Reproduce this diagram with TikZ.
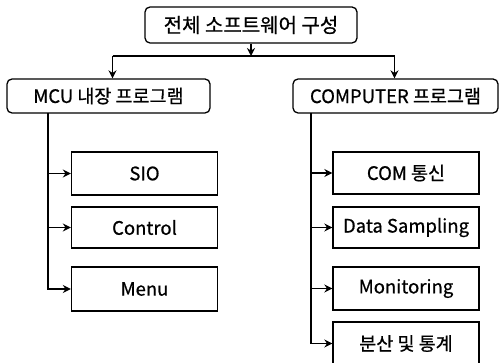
\documentclass[tikz,border=0pt]{standalone}
\usepackage{fontspec}
\setmainfont{Noto Sans CJK KR}[FakeBold=0.7]
\usetikzlibrary{arrows.meta}
\begin{document}
\begin{tikzpicture}[x=1pt,y=-1pt,
  txt/.style={font=\fontsize{18.5}{22}\selectfont, text=black},
  headbox/.style={txt, draw=black, line width=1.3pt, rounded corners=5pt, inner sep=0pt},
  subbox/.style={txt, draw=black, line width=1.3pt, inner sep=0pt, minimum width=146pt},
  conn/.style={line width=1.8pt, draw=black},
  arr/.style={conn, -{Stealth[length=8pt,width=8pt]}}]
\useasboundingbox (0,0) rectangle (500,363);
\node[headbox, minimum width=212pt, minimum height=36pt, font=\fontsize{20}{22}\selectfont] (top) at (251,25) {전체 소프트웨어 구성};
\node[headbox, minimum width=203pt, minimum height=34pt] (mcu) at (108.5,96) {MCU 내장 프로그램};
\node[headbox, minimum width=205pt, minimum height=34pt] (pc) at (395.5,96) {COMPUTER 프로그램};
\node[subbox, minimum height=43pt] (sio) at (144.5,173.5) {SIO};
\node[subbox, minimum height=41pt] (ctl) at (144.5,227.5) {Control};
\node[subbox, minimum height=44pt] (menu) at (144.5,289) {Menu};
\node[subbox, minimum height=42pt] (com) at (406,173) {COM 통신};
\node[subbox, minimum height=41pt] (data) at (406,227.5) {Data Sampling};
\node[subbox, minimum height=43pt] (mon) at (406,288.5) {Monitoring};
\node[subbox, minimum height=43pt] (stat) at (406,343.5) {분산 및 통계};
\coordinate (j) at (251,56);
\coordinate (lt) at (48,113);
\coordinate (rt) at (311,113);
\draw[arr] (top.south) -- (j);
\draw[conn] ([xshift=4pt]mcu.north |- j) -- ([xshift=-1pt]pc.north |- j);
\draw[arr] ([xshift=4pt]mcu.north |- j) -- ([xshift=4pt]mcu.north);
\draw[arr] ([xshift=-1pt]pc.north |- j) -- ([xshift=-1pt]pc.north);
\draw[arr] (lt) |- (menu.west);
\draw[arr] (lt |- sio.west) -- (sio.west);
\draw[arr] (lt |- ctl.west) -- (ctl.west);
\draw[arr] (rt) |- (stat.west);
\draw[arr] (rt |- com.west) -- (com.west);
\draw[arr] (rt |- data.west) -- (data.west);
\draw[arr] (rt |- mon.west) -- (mon.west);
\end{tikzpicture}
\end{document}
